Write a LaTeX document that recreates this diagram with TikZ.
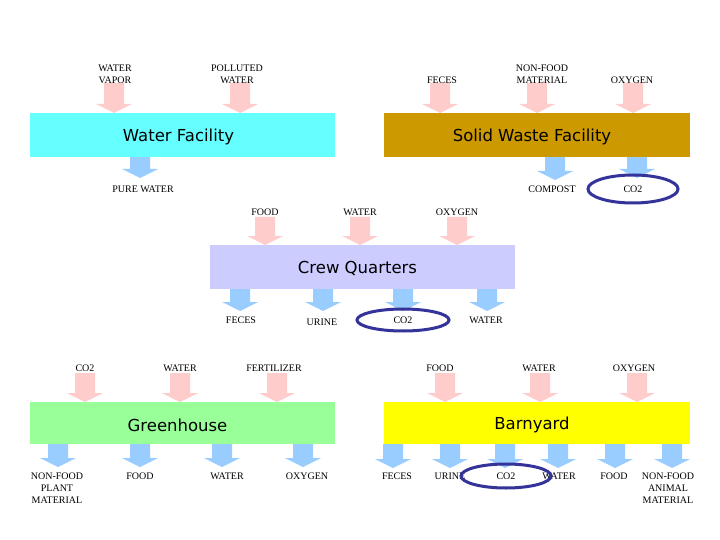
\documentclass[tikz,border=0pt]{standalone}
\usepackage{fontspec}
\setmainfont{Liberation Serif}
\newfontfamily\boxfont{DejaVu Sans}
\definecolor{inpink}{HTML}{FFCCCC}
\definecolor{outblue}{HTML}{99CCFF}
\definecolor{watercol}{HTML}{66FFFF}
\definecolor{wastecol}{HTML}{CC9900}
\definecolor{crewcol}{HTML}{CCCCFF}
\definecolor{greencol}{HTML}{99FF99}
\definecolor{barncol}{HTML}{FFFF00}
\definecolor{ringcol}{HTML}{333399}
\newcommand{\blockarr}[4]{\fill[#1] ({#2-10},#3) -- ({#2+10},#3) -- ({#2+10},{#4-9}) -- ({#2+18},{#4-9}) -- (#2,#4) -- ({#2-18},{#4-9}) -- ({#2-10},{#4-9}) -- cycle;}
\begin{document}
\begin{tikzpicture}[x=1pt,y=-1pt,
  lbl/.style={font=\fontsize{10}{12}\selectfont, align=center, inner sep=0pt},
  facbox/.style={draw=none, minimum width=305pt, minimum height=44pt, inner sep=0pt},
  factitle/.style={font=\boxfont\fontsize{16.5}{18}\selectfont, inner sep=0pt},
  ring/.style={draw=ringcol, line width=3pt}]
\useasboundingbox (0,0) rectangle (720,540);
\fill[white] (0,0) rectangle (720,540);

% ---------- arrows: Water Facility ----------
\blockarr{inpink}{114}{83}{113}
\blockarr{inpink}{240}{83}{113}
\blockarr{outblue}{140}{157}{178}
% ---------- arrows: Solid Waste Facility ----------
\blockarr{inpink}{440}{83}{113}
\blockarr{inpink}{537}{83}{113}
\blockarr{inpink}{633}{83}{113}
\blockarr{outblue}{555}{157}{180}
\blockarr{outblue}{637}{157}{178}
% ---------- arrows: Crew Quarters ----------
\blockarr{inpink}{265}{217}{245}
\blockarr{inpink}{360}{217}{245}
\blockarr{inpink}{457}{217}{245}
\blockarr{outblue}{240}{288}{311}
\blockarr{outblue}{323}{288}{311}
\blockarr{outblue}{403}{288}{311}
\blockarr{outblue}{487}{288}{311}
% ---------- arrows: Greenhouse ----------
\blockarr{inpink}{85}{373}{402}
\blockarr{inpink}{180}{373}{402}
\blockarr{inpink}{277}{373}{402}
\blockarr{outblue}{58}{444}{467}
\blockarr{outblue}{140}{444}{467}
\blockarr{outblue}{222}{444}{467}
\blockarr{outblue}{303}{444}{467}
% ---------- arrows: Barnyard ----------
\blockarr{inpink}{445}{373}{402}
\blockarr{inpink}{540}{373}{402}
\blockarr{inpink}{637}{373}{402}
\blockarr{outblue}{393}{444}{468}
\blockarr{outblue}{450}{444}{468}
\blockarr{outblue}{505}{444}{468}
\blockarr{outblue}{558}{444}{468}
\blockarr{outblue}{615}{444}{468}
\blockarr{outblue}{672}{444}{468}

% ---------- facility boxes ----------
\node[facbox, fill=watercol] (water) at (182.5,135) {};
\node[factitle] (watert) at ([xshift=-4pt,yshift=-2pt]water.center) {Water Facility};
\node[facbox, fill=wastecol, minimum width=306pt] (waste) at (537,135) {};
\node[factitle] (wastet) at ([xshift=-5pt,yshift=-2pt]waste.center) {Solid Waste Facility};
\node[facbox, fill=crewcol] (crew) at (362.5,266.5) {};
\node[factitle] (crewt) at ([xshift=-5pt,yshift=-2pt]crew.center) {Crew Quarters};
\node[facbox, fill=greencol, minimum height=42pt] (green) at (182.5,423) {};
\node[factitle] (greent) at ([xshift=-5pt,yshift=-2pt]green.center) {Greenhouse};
\node[facbox, fill=barncol, minimum width=306pt, minimum height=42pt] (barn) at (537,423) {};
\node[factitle] (barnt) at ([xshift=-5pt,yshift=-2pt]barn.center) {Barnyard};

% ---------- labels: Water Facility ----------
\node[lbl] (wvap) at (115,74) {WATER\\VAPOR};
\node[lbl] (pollw) at (237,74) {POLLUTED\\WATER};
\node[lbl] (purew) at (143,189) {PURE WATER};
% ---------- labels: Solid Waste ----------
\node[lbl] (swfec) at (442,80) {FECES};
\node[lbl] (swnf) at (542,74) {NON-FOOD\\MATERIAL};
\node[lbl] (swoxy) at (632,80) {OXYGEN};
\node[lbl] (swcomp) at (552,189) {COMPOST};
\node[lbl] (swco2) at (633,189) {CO2};
% ---------- labels: Crew ----------
\node[lbl] (cqfood) at (265,212) {FOOD};
\node[lbl] (cqwat) at (360,212) {WATER};
\node[lbl] (cqoxy) at (457,212) {OXYGEN};
\node[lbl] (cqfec) at (241,320) {FECES};
\node[lbl] (cqur) at (322,322) {URINE};
\node[lbl] (cqco2) at (403,320) {CO2};
\node[lbl] (cqwo) at (486,320) {WATER};
% ---------- labels: Greenhouse ----------
\node[lbl] (ghco2) at (85,368) {CO2};
\node[lbl] (ghwat) at (180,368) {WATER};
\node[lbl] (ghfert) at (274,368) {FERTILIZER};
\node[lbl] (ghnf) at (57,488) {NON-FOOD\\PLANT\\MATERIAL};
\node[lbl] (ghfood) at (140,476) {FOOD};
\node[lbl] (ghwo) at (227,476) {WATER};
\node[lbl] (ghoxy) at (307,476) {OXYGEN};
% ---------- labels: Barnyard ----------
\node[lbl] (bfood) at (440,368) {FOOD};
\node[lbl] (bwat) at (539,368) {WATER};
\node[lbl] (boxy) at (634,368) {OXYGEN};
\node[lbl] (bfec) at (397,476) {FECES};
\node[lbl] (bur) at (450,476) {URINE};
\node[lbl] (bco2) at (506,476) {CO2};
\node[lbl] (bwo) at (559,476) {WATER};
\node[lbl] (bfo) at (614,476) {FOOD};
\node[lbl] (bnf) at (668,488) {NON-FOOD\\ANIMAL\\MATERIAL};

% ---------- CO2 rings ----------
\draw[ring] (swco2) ellipse [x radius=45, y radius=14];
\draw[ring] (cqco2) ellipse [x radius=46, y radius=11];
\draw[ring] (bco2) ellipse [x radius=45, y radius=12];
\end{tikzpicture}
\end{document}
